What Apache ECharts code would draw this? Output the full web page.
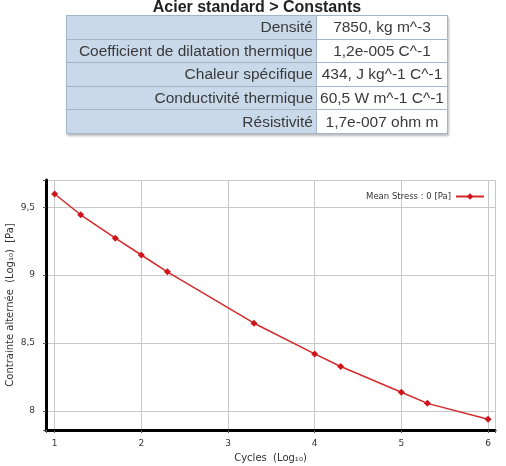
<!DOCTYPE html>
<html>
<head>
<meta charset="utf-8">
<script src="https://cdn.jsdelivr.net/npm/echarts@6/dist/echarts.min.js"></script>
<style>
  html, body { margin: 0; padding: 0; background: #fff; }
  #wrap { position: relative; width: 506px; height: 466px; overflow: hidden; }
  #chart { position: absolute; left: 0; top: 0; width: 506px; height: 466px; }
  #title { position: absolute; left: 66px; top: -2px; width: 382px; text-align: center;
    font: bold 16px "Liberation Sans", Arial, sans-serif; color: #222; }
  #props { position: absolute; left: 66px; top: 15px; border-collapse: collapse; table-layout: fixed;
    font: 15.5px "Liberation Sans", Arial, sans-serif; color: #3a3a3a;
    box-shadow: 1px 2px 2px #bbb; }
  #props tr { height: 23.6px; }
  #props td { padding: 0 3px; border: 1px solid #a3b5c9; white-space: nowrap; line-height: 20px; }
  #props td.k { background: #c9d9ea; text-align: right; width: 243px; }
  #props td.v { background: #fff; text-align: center; width: 124px; }
</style>
</head>
<body>
<div id="wrap">
  <div id="chart"></div>
  <div id="title">Acier standard &gt; Constants</div>
  <table id="props"></table>
</div>
<script>
const propNames = ["Densité", "Coefficient de dilatation thermique", "Chaleur spécifique", "Conductivité thermique", "Résistivité"];
const propValues = ["7850, kg m^-3", "1,2e-005 C^-1", "434, J kg^-1 C^-1", "60,5 W m^-1 C^-1", "1,7e-007 ohm m"];

const cyclesLog = [1, 1.3, 1.7, 2, 2.3, 3.3, 4, 4.3, 5, 5.3, 6];
const stressLog = [9.597, 9.444, 9.272, 9.148, 9.024, 8.646, 8.42, 8.327, 8.138, 8.056, 7.939];
const seriesName = "Mean Stress : 0 [Pa]";

const table = document.getElementById("props");
propNames.forEach((name, i) => {
  const tr = document.createElement("tr");
  tr.innerHTML = `<td class="k"></td><td class="v"></td>`;
  tr.children[0].textContent = name;
  tr.children[1].textContent = propValues[i];
  table.appendChild(tr);
});

const chart = echarts.init(document.getElementById("chart"));
const tickFont = { fontFamily: "DejaVu Sans", fontSize: 9, color: "#333" };
const nameFont = { fontFamily: "DejaVu Sans", fontSize: 10, color: "#333" };
chart.setOption({
  animation: false,
  grid: { left: 46, right: 11, top: 180, bottom: 36, outerBoundsMode: "none", containLabel: false },
  legend: {
    right: 16, top: 187, align: "right",
    itemWidth: 28, itemHeight: 8, itemGap: 4,
    textStyle: { fontFamily: "DejaVu Sans", fontSize: 8.5, color: "#333" },
    data: [seriesName],
  },
  xAxis: {
    type: "value", min: 0.9, max: 6.08, splitNumber: 5,
    name: "Cycles  (Log₁₀)", nameLocation: "middle", nameGap: 23, nameMoveOverlap: false,
    nameTextStyle: nameFont,
    axisLine: { lineStyle: { color: "#000", width: 3 } },
    axisTick: { length: 3, lineStyle: { color: "#555" } },
    axisLabel: { ...tickFont, margin: 9, formatter: (v) => (Number.isInteger(v) ? String(v) : "") },
    splitLine: { show: true, lineStyle: { color: "#c8c8c8" } },
  },
  yAxis: {
    type: "value", min: 7.86, max: 9.7, splitNumber: 4,
    name: "Contrainte alternée  (Log₁₀)  [Pa]", nameLocation: "middle", nameGap: 31, nameMoveOverlap: false,
    nameTextStyle: nameFont,
    axisLine: { show: true, lineStyle: { color: "#000", width: 3 } },
    axisTick: { show: true, length: 3, lineStyle: { color: "#555" } },
    axisLabel: { ...tickFont, margin: 11,
      formatter: (v) => (Math.abs(v * 2 - Math.round(v * 2)) < 1e-6 ? String(v).replace(".", ",") : "") },
    splitLine: { show: true, lineStyle: { color: "#c8c8c8" } },
  },
  series: [{
    name: seriesName,
    type: "line",
    data: cyclesLog.map((x, i) => [x, stressLog[i]]),
    symbol: "diamond", symbolSize: 7,
    itemStyle: { color: "#d0141c" },
    lineStyle: { color: "#d42a2a", width: 1.5 },
  }],
});
</script>
</body>
</html>
